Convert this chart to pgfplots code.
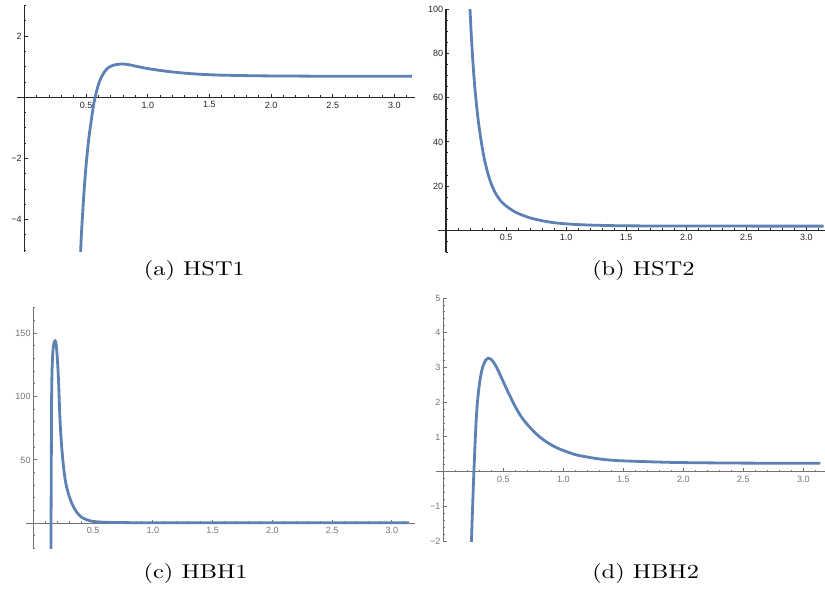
\documentclass[border=0pt]{standalone}
\usepackage{fontspec}
\usepackage{graphicx}
\usepackage{pgfplots}
\pgfplotsset{compat=1.18}
\newfontfamily\tickfont{Liberation Sans}
\definecolor{mma}{RGB}{94,129,181}

\pgfplotsset{
  mma axis/.style={
    scale only axis,
    axis lines=middle,
    axis line style={-, line width=0.45pt, draw=#1},
    tick style={draw=#1, line width=0.4pt},
    tick align=inside,
    major tick length=1.4pt,
    minor tick length=0.8pt,
    ticklabel style={font=\tickfont\fontsize{3.7}{4}\selectfont, text=#1, inner sep=1pt},
    xtick={0,0.5,1,1.5,2,2.5,3},
    xticklabels={,0.5,1.0,1.5,2.0,2.5,3.0},
    minor xtick={0.1,0.2,0.3,0.4,0.6,0.7,0.8,0.9,1.1,1.2,1.3,1.4,1.6,1.7,1.8,1.9,
                 2.1,2.2,2.3,2.4,2.6,2.7,2.8,2.9,3.1},
    xticklabel style={yshift=-0.6pt},
    clip=true,
  },
  mma line/.style={color=mma, line width=1.15pt, no marks, smooth},
}

\begin{document}
\begin{tikzpicture}
\useasboundingbox (0,0) rectangle (338.25pt,241.5pt);

% (a) HST1
\begin{axis}[mma axis=black!85,
  at={(7.01pt,138.3pt)}, anchor=south west,
  width=163.3pt, height=100.9pt,
  xmin=-0.06, xmax=3.17, ymin=-5.05, ymax=3,
  ytick={-4,-2,2}, yticklabels={−4,−2,2},
  minor ytick={-5,-4.5,-3.5,-3,-2.5,-1.5,-1,-0.5,0.5,1,1.5,2.5,3},
]
\addplot[mma line] coordinates {
 (0.452,-5.4) (0.46,-4.6) (0.47,-3.9) (0.48,-3.25) (0.49,-2.7) (0.50,-2.2)
 (0.52,-1.4) (0.54,-0.8) (0.56,-0.25) (0.58,0.12) (0.60,0.42) (0.62,0.63)
 (0.65,0.84) (0.68,0.97) (0.72,1.05) (0.76,1.08) (0.80,1.09) (0.85,1.065)
 (0.90,1.02) (0.95,0.98) (1.00,0.94) (1.10,0.88) (1.20,0.83) (1.30,0.79)
 (1.40,0.76) (1.50,0.74) (1.60,0.725) (1.80,0.71) (2.00,0.70) (2.50,0.69)
 (3.1416,0.69)
};
\end{axis}

% (b) HST2
\begin{axis}[mma axis=black!85,
  at={(179.7pt,138.05pt)}, anchor=south west,
  width=158.5pt, height=99.6pt,
  xmin=-0.064, xmax=3.153, ymin=-10, ymax=100,
  ytick={20,40,60,80,100},
  yticklabels={20,40,60,80,100},
  minor ytick={-10,-5,5,10,15,25,30,35,45,50,55,65,70,75,85,90,95},
]
\addplot[mma line] coordinates {
 (0.195,106) (0.20,100) (0.21,89) (0.222,78) (0.235,68) (0.25,59) (0.27,49)
 (0.294,40) (0.32,32) (0.35,25.5) (0.38,20.5) (0.42,16) (0.46,13) (0.50,11)
 (0.55,9.1) (0.60,7.6) (0.70,5.6) (0.80,4.3) (0.90,3.4) (1.00,2.9)
 (1.10,2.55) (1.25,2.25) (1.50,2.0) (2.00,1.9) (3.1416,1.85)
};
\end{axis}

% (c) HBH1
\begin{axis}[mma axis=black!55,
  at={(10.78pt,16.56pt)}, anchor=south west,
  width=159.2pt, height=98.7pt,
  xmin=-0.06, xmax=3.19, ymin=-20, ymax=170,
  ytick={50,100,150}, yticklabels={50,100,150},
  minor ytick={-20,-10,10,20,30,40,60,70,80,90,110,120,130,140,160,170},
]
\addplot[mma line] coordinates {
 (0.146,-25) (0.148,20) (0.150,60) (0.152,100) (0.156,122) (0.163,136)
 (0.172,142.5) (0.182,144) (0.19,141) (0.20,130) (0.21,112) (0.222,82)
 (0.235,62) (0.25,46) (0.27,32) (0.30,21) (0.33,14) (0.36,9) (0.40,5)
 (0.45,2.6) (0.50,1.5) (0.60,0.8) (0.80,0.5) (1.00,0.45) (3.1416,0.4)
};
\end{axis}

% (d) HBH2
\begin{axis}[mma axis=black!55,
  at={(178.8pt,19.68pt)}, anchor=south west,
  width=159.4pt, height=99.6pt,
  xmin=-0.06, xmax=3.18, ymin=-2, ymax=5,
  ytick={-2,-1,1,2,3,4,5}, yticklabels={−2,−1,1,2,3,4,5},
  minor ytick={-1.8,-1.6,-1.4,-1.2,-0.8,-0.6,-0.4,-0.2,0.2,0.4,0.6,0.8,
               1.2,1.4,1.6,1.8,2.2,2.4,2.6,2.8,3.2,3.4,3.6,3.8,4.2,4.4,4.6,4.8},
]
\addplot[mma line] coordinates {
 (0.232,-2.3) (0.24,-1.45) (0.25,-0.45) (0.258,0.25) (0.264,0.75) (0.27,1.2)
 (0.278,1.7) (0.29,2.2) (0.305,2.62) (0.32,2.9) (0.335,3.08) (0.355,3.22)
 (0.375,3.27) (0.40,3.23) (0.425,3.12) (0.45,2.96) (0.475,2.78) (0.50,2.59)
 (0.525,2.40) (0.55,2.22) (0.60,1.87) (0.65,1.58) (0.70,1.36) (0.75,1.17)
 (0.80,1.01) (0.85,0.88) (0.90,0.77) (0.95,0.68) (1.00,0.61) (1.10,0.49)
 (1.20,0.42) (1.30,0.365) (1.40,0.33) (1.50,0.31) (1.75,0.28) (2.00,0.26)
 (2.50,0.245) (3.1416,0.24)
};
\end{axis}

\node[anchor=base] at (79.7pt,128.45pt) {\scalebox{1}[0.82]{(a) HST1}};
\node[anchor=base] at (263.8pt,128.45pt) {\scalebox{1}[0.82]{(b) HST2}};
\node[anchor=base] at (80.2pt,4.22pt) {\scalebox{1}[0.82]{(c) HBH1}};
\node[anchor=base] at (264.7pt,4.22pt) {\scalebox{1}[0.82]{(d) HBH2}};
\end{tikzpicture}
\end{document}
